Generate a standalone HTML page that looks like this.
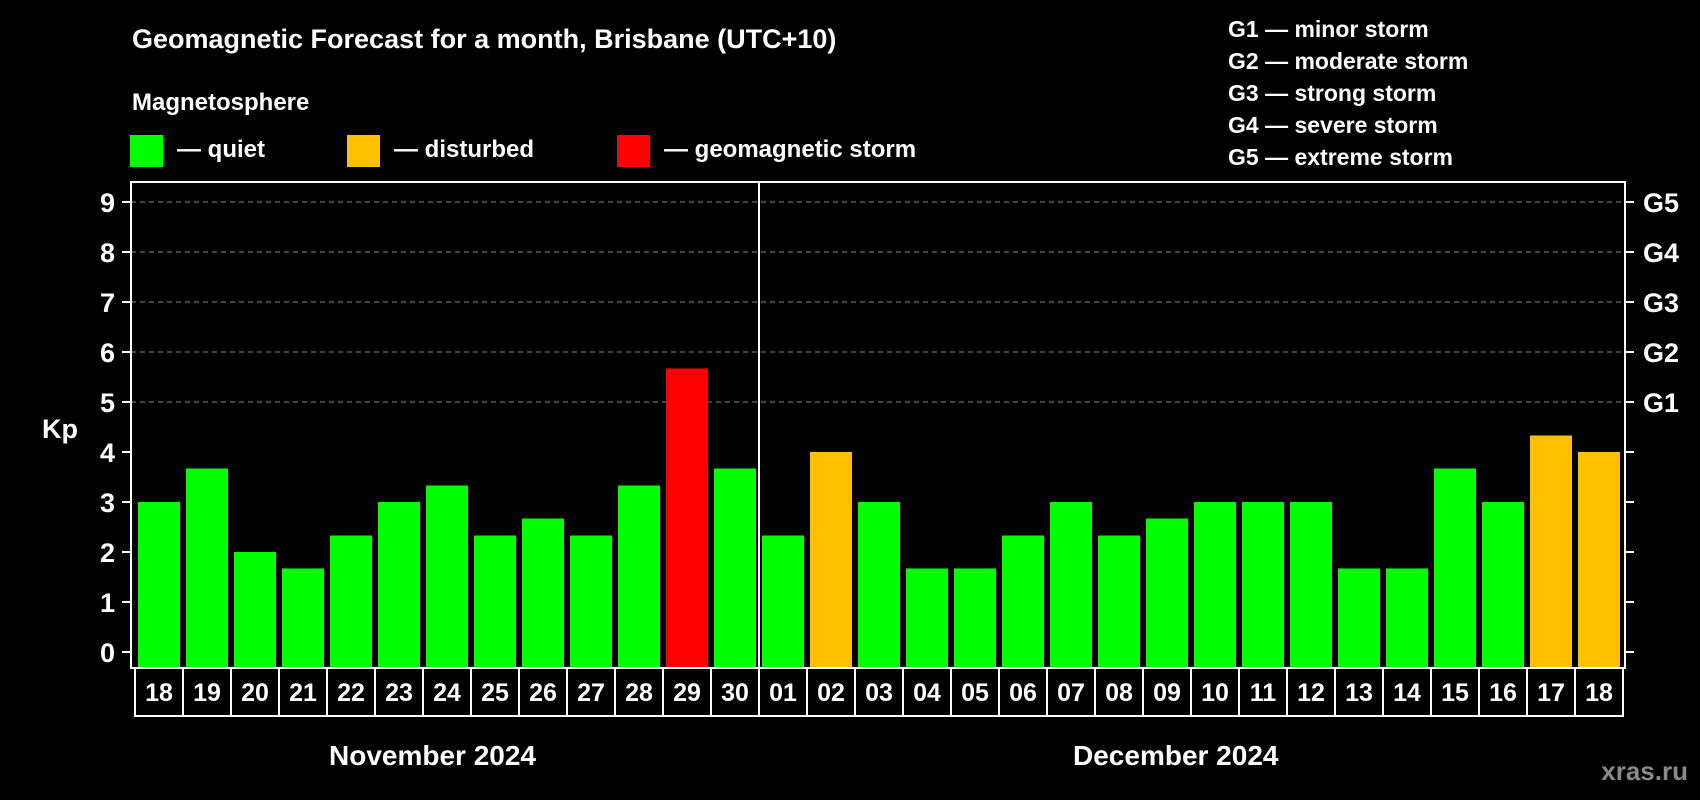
<!DOCTYPE html>
<html><head><meta charset="utf-8"><style>
html,body{margin:0;padding:0;background:#000;}
svg{display:block;font-family:"Liberation Sans",sans-serif;font-weight:bold;}
</style></head><body>
<svg id="chart" width="1700" height="800" viewBox="0 0 1700 800">
<rect width="1700" height="800" fill="#000"/>
<text x="132" y="48" fill="#fff" font-size="27">Geomagnetic Forecast for a month, Brisbane (UTC+10)</text>
<text x="132" y="110" fill="#fff" font-size="24">Magnetosphere</text>
<g><rect x="130" y="135" width="33" height="32" fill="#00ff00"/><text x="177" y="157" fill="#fff" font-size="24">— quiet</text></g>
<g><rect x="347" y="135" width="33" height="32" fill="#ffc000"/><text x="394" y="157" fill="#fff" font-size="24">— disturbed</text></g>
<g><rect x="617" y="135" width="33" height="32" fill="#ff0000"/><text x="664" y="157" fill="#fff" font-size="24">— geomagnetic storm</text></g>
<g fill="#fff" font-size="23">
<text x="1228" y="37">G1 — minor storm</text>
<text x="1228" y="69">G2 — moderate storm</text>
<text x="1228" y="101">G3 — strong storm</text>
<text x="1228" y="133">G4 — severe storm</text>
<text x="1228" y="165">G5 — extreme storm</text>
</g>
<text x="42" y="438" fill="#fff" font-size="27">Kp</text>
<g id="plot"></g>
<text x="329" y="765" fill="#fff" font-size="28">November 2024</text>
<text x="1073" y="765" fill="#fff" font-size="28">December 2024</text>
<text x="1688" y="780" fill="#8a8a8a" font-size="26" text-anchor="end">xras.ru</text>
</svg>
<script>
const days = ["18","19","20","21","22","23","24","25","26","27","28","29","30","01","02","03","04","05","06","07","08","09","10","11","12","13","14","15","16","17","18"];
const kpValues = [3,3.67,2,1.67,2.33,3,3.33,2.33,2.67,2.33,3.33,5.67,3.67,2.33,4,3,1.67,1.67,2.33,3,2.33,2.67,3,3,3,1.67,1.67,3.67,3,4.33,4];
const yTicks = ["0","1","2","3","4","5","6","7","8","9"];
const gLabels = ["G1","G2","G3","G4","G5"];
const monthBreakIndex = 13;

const NS = "http://www.w3.org/2000/svg";
const plot = document.getElementById("plot");
const X0 = 135, STEP = 48, FT = 182, FB = 668, FL = 131, FR = 1625;
const y = v => 652 - v * 50;
const cellX = i => X0 + i * STEP;
function mk(tag, attrs, parent) {
  const e = document.createElementNS(NS, tag);
  for (const k in attrs) e.setAttribute(k, attrs[k]);
  (parent || plot).appendChild(e);
  return e;
}
// gridlines
for (let v = 5; v <= 9; v++) {
  const g = mk("line", {x1: FL, x2: FR, y1: y(v), y2: y(v), stroke: "#888", "stroke-width": 1, "stroke-dasharray": "5,4"});
  
  
}
// bars
kpValues.forEach((v, i) => {
  const color = v >= 5 ? "#ff0000" : (v >= 4 ? "#ffc000" : "#00ff00");
  const b = mk("rect", {x: cellX(i) + 3, y: y(v), width: 42, height: FB - 1 - y(v), fill: color});
  
  
});
// frame
const fr = mk("rect", {x: FL, y: FT, width: FR - FL, height: FB - FT, fill: "none", stroke: "#fff", "stroke-width": 2});


// month separator
const sep = mk("line", {x1: cellX(monthBreakIndex), x2: cellX(monthBreakIndex), y1: FT, y2: FB, stroke: "#fff", "stroke-width": 2});


// y ticks
yTicks.forEach((t, i) => {
  const l = mk("line", {x1: 122, x2: FL, y1: y(i), y2: y(i), stroke: "#fff", "stroke-width": 2});
  
  
  const r = mk("line", {x1: FR, x2: FR + 9, y1: y(i), y2: y(i), stroke: "#fff", "stroke-width": 2});
  
  
  const tx = mk("text", {x: 115, y: y(i) + 10, fill: "#fff", "font-size": 27, "text-anchor": "end"});
  tx.textContent = t;
  
  
});
gLabels.forEach((g, i) => {
  const tx = mk("text", {x: 1643, y: y(i + 5) + 10, fill: "#fff", "font-size": 27});
  tx.textContent = g;
  
  
});
// day cells
const box = mk("rect", {x: X0, y: FB, width: STEP * days.length, height: 48, fill: "none", stroke: "#fff", "stroke-width": 2});


days.forEach((d, i) => {
  if (i > 0) {
    const l = mk("line", {x1: cellX(i), x2: cellX(i), y1: FB, y2: FB + 48, stroke: "#fff", "stroke-width": 2});
    
    
  }
  const tx = mk("text", {x: cellX(i) + STEP / 2, y: 701, fill: "#fff", "font-size": 25, "text-anchor": "middle"});
  tx.textContent = d;
  
  
});
</script>
</body></html>
